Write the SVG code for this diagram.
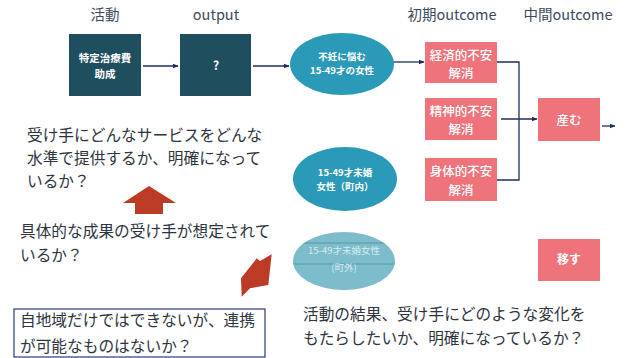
<svg xmlns="http://www.w3.org/2000/svg" width="635" height="358" viewBox="0 0 635 358">
<style>
text{font-family:"Noto Sans CJK JP","Noto Sans",sans-serif}
.hdr{font-size:14.5px;fill:#3c4a5e;text-anchor:middle}
.body{font-size:15.7px;fill:#2e3440}
.wb{fill:#fff;font-weight:bold;text-anchor:middle}
.wn{fill:#fff;font-weight:500;text-anchor:middle;font-size:12.5px}
.dark{fill:#1f4e5f}
.ell{fill:#2b9ab8}
.pink{fill:#ee737b}
.ln{stroke:#1f2d5a;stroke-width:1.3;fill:none}
.red{fill:#bc3b27}
</style>
<defs>
<marker id="ah" viewBox="0 0 10 10" refX="9" refY="5" markerWidth="6" markerHeight="6" orient="auto" markerUnits="userSpaceOnUse">
<path d="M0,1 L10,5 L0,9 z" fill="#1f2d5a"/>
</marker>
<clipPath id="e3c"><ellipse cx="344" cy="261" rx="51" ry="29"/></clipPath>
</defs>
<rect width="635" height="358" fill="#fff"/>

<g id="headers">
<text class="hdr" x="105" y="20">活動</text>
<text class="hdr" x="216" y="20">output</text>
<text class="hdr" x="452" y="20">初期outcome</text>
<text class="hdr" x="568" y="20">中間outcome</text>
</g>

<g id="connectors">
<line class="ln" x1="143" y1="66" x2="178" y2="66" marker-end="url(#ah)"/>
<line class="ln" x1="253" y1="66" x2="289" y2="66" marker-end="url(#ah)"/>
<line class="ln" x1="393" y1="62" x2="424" y2="62" marker-end="url(#ah)"/>
<polyline class="ln" points="497,62 519,62 519,180 497,180"/>
<line class="ln" x1="501" y1="119" x2="537" y2="119" marker-end="url(#ah)"/>
<line class="ln" x1="602" y1="126" x2="615" y2="126" marker-end="url(#ah)"/>
</g>

<g id="n_activity">
<rect class="dark" x="69" y="34" width="72" height="62"/>
<text class="wb" x="105" y="62" font-size="10.5">特定治療費</text>
<text class="wb" x="105" y="78" font-size="10.5">助成</text>
</g>
<g id="n_output">
<rect class="dark" x="180" y="34" width="71" height="62"/>
<text class="wb" x="216" y="70" font-size="12">?</text>
</g>
<g id="n_target1">
<ellipse class="ell" cx="342" cy="64" rx="52" ry="31"/>
<text class="wb" x="342" y="60" font-size="9.5">不妊に悩む</text>
<text class="wb" x="342" y="74" font-size="9.5">15-49才の女性</text>
</g>
<g id="n_target2">
<ellipse class="ell" cx="345" cy="179" rx="52" ry="32"/>
<text class="wb" x="345" y="176" font-size="9.5">15-49才未婚</text>
<text class="wb" x="345" y="190" font-size="9.5">女性（町内）</text>
</g>
<g id="n_target3">
<ellipse cx="344" cy="261" rx="51" ry="29" fill="#7dbccb"/>
<g clip-path="url(#e3c)" stroke="#3f7f93" stroke-width="1" opacity="0.6">
<line x1="290" y1="243" x2="400" y2="243"/>
<line x1="290" y1="264" x2="400" y2="264"/>
</g>
<text x="344" y="254" font-size="9.5" fill="#d4ebf1" text-anchor="middle">15-49才未婚女性</text>
<text x="344" y="271" font-size="9.5" fill="#d4ebf1" text-anchor="middle">(町外)</text>
</g>
<g id="n_econ">
<rect class="pink" x="425" y="42" width="72" height="41"/>
<text class="wn" x="461" y="60">経済的不安</text>
<text class="wn" x="461" y="78">解消</text>
</g>
<g id="n_mental">
<rect class="pink" x="425" y="98" width="72" height="42"/>
<text class="wn" x="461" y="116">精神的不安</text>
<text class="wn" x="461" y="134">解消</text>
</g>
<g id="n_body">
<rect class="pink" x="425" y="158" width="72" height="43"/>
<text class="wn" x="461" y="176">身体的不安</text>
<text class="wn" x="461" y="195">解消</text>
</g>
<g id="n_bear">
<rect class="pink" x="538" y="98" width="62" height="43"/>
<text class="wn" x="569" y="125" font-size="12">産む</text>
</g>
<g id="n_move">
<rect class="pink" x="538" y="239" width="62" height="42"/>
<text class="wb" x="569" y="264" font-size="12">移す</text>
</g>

<g id="arrows">
<polygon class="red" points="149,186 176,203 163,203 163,214 135,214 135,203 123,203"/>
<polygon class="red" points="256.7,258.3 260,261 271.7,254.3 268.3,285 250,288.3 241.7,296.7 241,278.3"/>
</g>

<g id="notes">
<text class="body" x="27" y="141">受け手にどんなサービスをどんな</text>
<text class="body" x="27" y="164">水準で提供するか、明確になって</text>
<text class="body" x="27" y="187">いるか？</text>
<text class="body" x="20" y="237">具体的な成果の受け手が想定されて</text>
<text class="body" x="20" y="261">いるか？</text>
<rect x="14" y="309" width="251" height="48" fill="none" stroke="#2b3a78" stroke-width="1.2"/>
<text class="body" x="20" y="326">自地域だけではできないが、連携</text>
<text class="body" x="20" y="352">が可能なものはないか？</text>
<text class="body" x="303" y="320" font-size="16">活動の結果、受け手にどのような変化を</text>
<text class="body" x="303" y="344" font-size="16">もたらしたいか、明確になっているか？</text>
</g>
</svg>
